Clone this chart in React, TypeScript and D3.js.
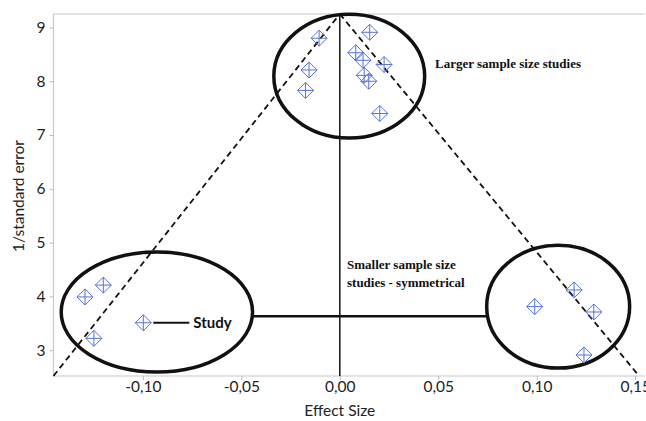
import React, { useEffect, useRef } from 'react';
import * as d3 from 'd3';

// studies: effect size / precision (1/SE)
const effectSize = [
  -0.0105, 0.0152, -0.0156, -0.0174, 0.0081, 0.0118, 0.0225, 0.0124, 0.0147, 0.0203,
  -0.1294, -0.1201, -0.0998, -0.1249,
  0.099, 0.119, 0.129, 0.124,
];
const precision = [
  8.8, 8.91, 8.21, 7.83, 8.53, 8.39, 8.31, 8.11, 8.0, 7.4,
  3.99, 4.21, 3.51, 3.22,
  3.81, 4.12, 3.71, 2.91,
];

const xTicks = [-0.1, -0.05, 0, 0.05, 0.1, 0.15];
const yTicks = [3, 4, 5, 6, 7, 8, 9];

// highlighted groups (center x, center y, radius x, radius y) in data units
const groupCx = [0.0048, -0.0929, 0.1109];
const groupCy = [8.095, 3.71, 3.81];
const groupRx = [0.0383, 0.0486, 0.0363];
const groupRy = [1.152, 1.115, 1.143];

const App = () => {
  const ref = useRef<SVGSVGElement>(null);

  useEffect(() => {
    const svg = d3.select(ref.current);
    svg.selectAll('*').remove();

    const width = 646;
    const height = 421;
    const margin = { top: 14, right: 1, bottom: 45, left: 53.5 };

    svg.attr('width', width).attr('height', height);

    const x = d3.scaleLinear()
      .domain([-0.1454, 0.155])
      .range([margin.left, width - margin.right]);

    const y = d3.scaleLinear()
      .domain([2.52, 9.25])
      .range([height - margin.bottom, margin.top]);

    const fmt = (d: number) => d3.format('.2f')(d).replace('.', ',').replace('\u2212', '-');
    const font = 'Lato, "Open Sans", sans-serif';

    // frame
    svg.append('path')
      .attr('d', `M${width - margin.right},${margin.top}H${margin.left}V${height - margin.bottom}H${width - margin.right}`)
      .attr('fill', 'none')
      .attr('stroke', '#c8c8c8')
      .attr('stroke-width', 1.2);

    // Axes
    const xAxis = svg.append('g')
      .attr('transform', `translate(0, ${height - margin.bottom})`)
      .call(d3.axisBottom(x).tickValues(xTicks).tickFormat(d => fmt(d as number)).tickSize(4).tickSizeOuter(0));
    xAxis.select('.domain').remove();

    const yAxis = svg.append('g')
      .attr('transform', `translate(${margin.left}, 0)`)
      .call(d3.axisLeft(y).tickValues(yTicks).tickFormat(d3.format('d')).tickSize(4).tickSizeOuter(0));
    yAxis.select('.domain').remove();

    svg.selectAll('.tick line').attr('stroke', '#bbb');
    svg.selectAll('.tick text')
      .attr('font-family', font)
      .attr('font-size', 15.5)
      .attr('fill', '#222');
    xAxis.selectAll('.tick text').attr('dy', '0.6em');
    yAxis.selectAll('.tick text').attr('x', -8);

    // Axis Labels
    svg.append('text')
      .attr('x', x(0))
      .attr('y', 416)
      .attr('text-anchor', 'middle')
      .attr('font-family', font)
      .attr('font-size', 15.5)
      .attr('fill', '#222')
      .text('Effect Size');

    svg.append('text')
      .attr('transform', 'rotate(-90)')
      .attr('x', -196)
      .attr('y', 24)
      .attr('text-anchor', 'middle')
      .attr('font-family', font)
      .attr('font-size', 15.5)
      .attr('fill', '#222')
      .text('1/standard error');

    // funnel
    const apex: [number, number] = [0, 9.25];
    const funnel = [
      [[-0.1454, 2.52], apex],
      [apex, [0.152, 2.52]],
    ];
    funnel.forEach(seg => {
      svg.append('line')
        .attr('x1', x(seg[0][0])).attr('y1', y(seg[0][1]))
        .attr('x2', x(seg[1][0])).attr('y2', y(seg[1][1]))
        .attr('stroke', '#111')
        .attr('stroke-width', 1.8)
        .attr('stroke-dasharray', '6,4');
    });

    // mean line
    svg.append('line')
      .attr('x1', x(0)).attr('x2', x(0))
      .attr('y1', y(9.25)).attr('y2', y(2.52))
      .attr('stroke', '#111')
      .attr('stroke-width', 1.5);

    // connector between lower groups
    svg.append('line')
      .attr('x1', x(groupCx[1] + groupRx[1])).attr('x2', x(groupCx[2] - groupRx[2]))
      .attr('y1', y(3.63)).attr('y2', y(3.63))
      .attr('stroke', '#111')
      .attr('stroke-width', 2.5);

    // group ellipses
    groupCx.forEach((cx, i) => {
      svg.append('ellipse')
        .attr('cx', x(cx))
        .attr('cy', y(groupCy[i]))
        .attr('rx', x(cx + groupRx[i]) - x(cx))
        .attr('ry', y(groupCy[i] - groupRy[i]) - y(groupCy[i]))
        .attr('fill', 'none')
        .attr('stroke', '#111')
        .attr('stroke-width', 3.5);
    });

    // points
    const s = 8;
    const pts = svg.append('g')
      .attr('fill', 'none')
      .attr('stroke', '#5572d8')
      .attr('stroke-width', 1);
    effectSize.forEach((es, i) => {
      const px = x(es);
      const py = y(precision[i]);
      pts.append('path')
        .attr('d', `M${px},${py - s}L${px + s},${py}L${px},${py + s}L${px - s},${py}Z M${px},${py - s}V${py + s} M${px - s},${py}H${px + s}`);
    });

    // Study callout
    const sx = x(effectSize[12]);
    const sy = y(precision[12]);
    svg.append('line')
      .attr('x1', sx + 10).attr('x2', sx + 46)
      .attr('y1', sy).attr('y2', sy)
      .attr('stroke', '#111')
      .attr('stroke-width', 2);
    svg.append('text')
      .attr('x', sx + 50)
      .attr('y', sy + 5)
      .attr('font-family', font)
      .attr('font-weight', 'bold')
      .attr('font-size', 15)
      .attr('fill', '#111')
      .text('Study');

    const serif = '"Liberation Serif", "DejaVu Serif", serif';
    svg.append('text')
      .attr('x', 435)
      .attr('y', 68)
      .attr('font-family', serif)
      .attr('font-weight', 'bold')
      .attr('font-size', 13)
      .attr('fill', '#111')
      .text('Larger sample size studies');

    const note = svg.append('text')
      .attr('font-family', serif)
      .attr('font-weight', 'bold')
      .attr('font-size', 13)
      .attr('fill', '#111');
    note.append('tspan').attr('x', 347).attr('y', 269).text('Smaller sample size');
    note.append('tspan').attr('x', 347).attr('y', 287).text('studies - symmetrical');
  }, []);

  return <svg ref={ref} style={{ position: 'absolute', left: 0, top: 0, display: 'block' }}></svg>;
};

export default App;
